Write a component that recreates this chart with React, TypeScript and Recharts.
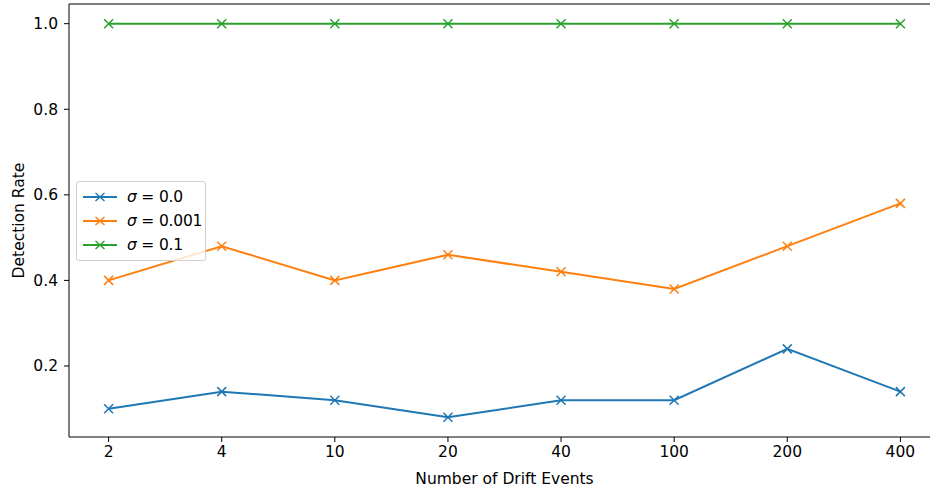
import React from 'react';
import { LineChart, Line, XAxis, YAxis, ReferenceLine } from 'recharts';

const categories = ['2', '4', '10', '20', '40', '100', '200', '400'];
const sigma00 = [0.1, 0.14, 0.12, 0.08, 0.12, 0.12, 0.24, 0.14];
const sigma0001 = [0.4, 0.48, 0.4, 0.46, 0.42, 0.38, 0.48, 0.58];
const sigma01 = [1.0, 1.0, 1.0, 1.0, 1.0, 1.0, 1.0, 1.0];
const yTicks = [0.2, 0.4, 0.6, 0.8, 1.0];

const series = [
  { key: 's0', label: '0.0', color: '#1f77b4' },
  { key: 's1', label: '0.001', color: '#ff7f0e' },
  { key: 's2', label: '0.1', color: '#2ca02c' },
];

const data = categories.map((c, i) => ({
  x: i,
  s0: sigma00[i],
  s1: sigma0001[i],
  s2: sigma01[i],
}));

const FONT = '"DejaVu Sans", sans-serif';
const FS = 15.5;

function XMarker(props: any) {
  const { cx, cy, stroke } = props;
  if (cx == null || cy == null) return null;
  const r = 4.5;
  return (
    <path
      key={`m-${cx}-${cy}`}
      d={`M${cx - r},${cy - r}L${cx + r},${cy + r}M${cx - r},${cy + r}L${cx + r},${cy - r}`}
      stroke={stroke}
      strokeWidth={1.5}
      fill="none"
    />
  );
}

function LegendBox() {
  return (
    <div
      style={{
        position: 'absolute',
        left: 76,
        top: 181,
        border: '1px solid #d0d0d0',
        borderRadius: 3,
        background: 'rgba(255,255,255,0.8)',
        padding: '3px 3px 3px 6px',
        fontFamily: FONT,
        fontSize: FS,
        color: '#000',
        whiteSpace: 'nowrap',
      }}
    >
      {series.map((s) => (
        <div key={s.key} style={{ display: 'flex', alignItems: 'center', height: 24 }}>
          <svg width={34} height={12} style={{ marginRight: 10, flexShrink: 0 }}>
            <line x1={0} y1={6} x2={34} y2={6} stroke={s.color} strokeWidth={2} />
            <path d="M12.5,2L21.5,10M12.5,10L21.5,2" stroke={s.color} strokeWidth={1.5} />
          </svg>
          <span style={{ letterSpacing: -0.2 }}>
            <i>σ</i> = {s.label}
          </span>
        </div>
      ))}
    </div>
  );
}

export default function App() {
  return (
    <div
      style={{
        position: 'absolute',
        left: 0,
        top: 0,
        width: 930,
        height: 489,
        overflow: 'hidden',
        background: '#fff',
      }}
    >
      <LineChart
        width={940}
        height={489}
        data={data}
        margin={{ top: 4, right: 0, left: 0, bottom: 0 }}
        style={{ fontFamily: FONT }}
      >
        <XAxis
          dataKey="x"
          type="number"
          domain={[-0.35, 7.35]}
          ticks={[0, 1, 2, 3, 4, 5, 6, 7]}
          tickFormatter={(v: number) => categories[v]}
          height={52}
          stroke="#000"
          tick={{ fill: '#000', fontSize: FS }}
          tickSize={5}
          tickMargin={4}
          allowDataOverflow
          label={{ value: 'Number of Drift Events', position: 'insideBottom', offset: 5, fill: '#000', fontSize: FS }}
        />
        <YAxis
          type="number"
          domain={[0.034, 1.046]}
          ticks={yTicks}
          tickFormatter={(v: number) => v.toFixed(1)}
          width={69}
          stroke="#000"
          tick={{ fill: '#000', fontSize: FS }}
          tickSize={5}
          tickMargin={6}
          allowDataOverflow
          label={{ value: 'Detection Rate', angle: -90, position: 'insideLeft', offset: 18, fill: '#000', fontSize: FS, style: { textAnchor: 'middle' } }}
        />
        <ReferenceLine y={1.046} stroke="#000" strokeWidth={1} />
        {series.map((s) => (
          <Line
            key={s.key}
            dataKey={s.key}
            stroke={s.color}
            strokeWidth={2}
            type="linear"
            dot={<XMarker />}
            activeDot={false}
            isAnimationActive={false}
          />
        ))}
      </LineChart>
      <LegendBox />
    </div>
  );
}
